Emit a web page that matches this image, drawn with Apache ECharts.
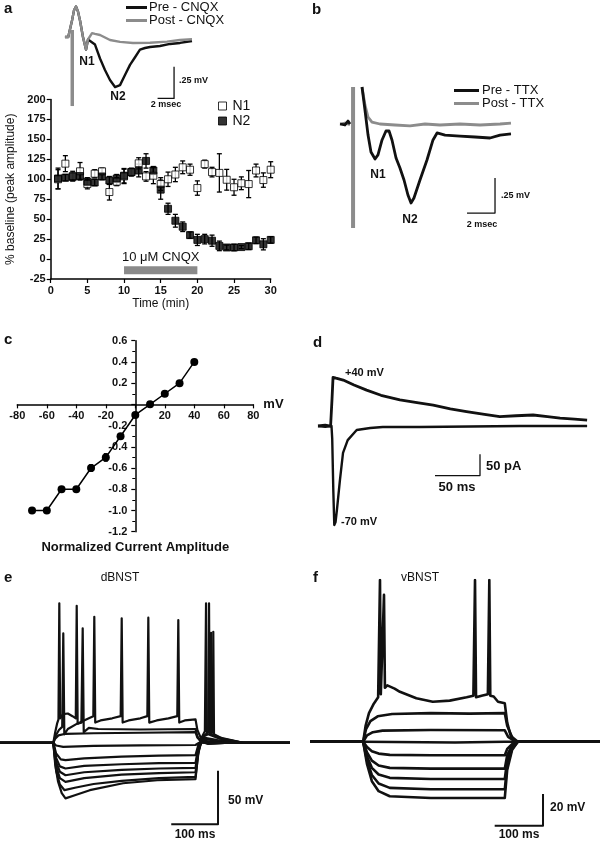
<!DOCTYPE html>
<html>
<head>
<meta charset="utf-8">
<script src="https://cdn.jsdelivr.net/npm/echarts@6/dist/echarts.min.js"></script>
<style>
html, body { margin: 0; padding: 0; background: #fff; }
#chart { width: 600px; height: 844px; }
</style>
</head>
<body>
<div id="chart"></div>
<script>
// ---------- a: field potentials pre / post CNQX (ms, mV) ----------
const aPreCnqx = [[0.6,0],[1.0,0],[1.2,0.01],[1.46,0.13],[1.7,0.21],[1.94,0.24],[2.19,0.2],[2.43,0.13],[2.79,0],[3.16,-0.1],[3.4,-0.02],[3.64,-0.01],[4.25,-0.06],[4.86,-0.17],[5.46,-0.26],[6.07,-0.34],[6.68,-0.395],[6.92,-0.405],[7.29,-0.38],[7.89,-0.3],[8.5,-0.22],[9.11,-0.16],[9.71,-0.1],[10.32,-0.087],[10.93,-0.079],[12.14,-0.071],[13.36,-0.055],[14.57,-0.047],[16.03,-0.032]];
const aPostCnqx = [[0.6,0],[1.0,0],[1.2,0.01],[1.46,0.13],[1.7,0.21],[1.94,0.24],[2.19,0.2],[2.43,0.13],[2.79,0],[3.16,-0.1],[3.4,-0.02],[3.89,0.03],[4.25,0.024],[4.86,0.016],[6.07,-0.024],[7.29,-0.039],[8.86,-0.047],[10.93,-0.045],[12.99,-0.037],[14.57,-0.024],[16.03,-0.018]];
const aStim = [[1.49,0.055],[1.49,-0.545]];
const aScaleBar = [[13.85,-0.235],[13.85,-0.485],[11.85,-0.485]];

// ---------- a: time course, % baseline ----------
const minutes = [1,2,3,4,5,6,7,8,9,10,11,12,13,14,15,16,17,18,19,20,21,22,23,24,25,26,27,28,29,30];
const n1Mean = [100,119.6,104,110,94,107,110,84,97,103.6,109,120,103.6,104.5,94,100,106,115,112,89,119,109,108,99.4,90,95,94,111,99,112];
const n1Sem  = [12,10,6,11,6,5,4,10,5,9,5,7,6,10,8,9,9,8,7,9,5,6,24,13,10,8,17,8,9,10];
const n2Mean = [101,102,103,104,97,96,103.5,98.5,101,104.5,109,111,123,111,87,63,48,40.5,30,24,25,23,16.5,14.5,14.5,15,16,23.5,18.5,24];
const n2Sem  = [13,4,5,4,5,4,4,5,5,9,4,8,9,5,12,7,8,6,4,7,6,7,6,3,4,2,4,4,7,4];
const cnqxWindow = [10, 20];
const cnqxBarY = [-19, -9];

// ---------- b: field potentials pre / post TTX (ms, mV) ----------
const bPreTtx = [[0.36,0],[0.71,-0.007],[0.93,0.021],[1.07,0],[1.5,'-'],[1.93,0.264],[2.14,0.1],[2.36,-0.079],[2.57,-0.2],[2.86,-0.25],[3.07,-0.221],[3.36,-0.114],[3.64,-0.05],[3.86,-0.05],[4.07,-0.114],[4.36,-0.243],[4.64,-0.314],[4.93,-0.4],[5.21,-0.507],[5.43,-0.564],[5.64,-0.529],[6.07,-0.4],[6.57,-0.257],[7.0,-0.114],[7.29,-0.064],[7.86,-0.079],[8.93,-0.086],[10.0,-0.093],[11.07,-0.1],[11.79,-0.079],[12.57,-0.071]];
const bPostTtx = [[0.36,0],[0.71,0.007],[1.07,-0.005],[1.5,'-'],[1.93,0.264],[2.14,0.136],[2.36,0.05],[2.64,0.014],[3.21,0],[4.29,-0.007],[5.36,-0.014],[6.43,0],[7.5,-0.007],[8.93,0],[10.36,-0.007],[11.79,0],[12.57,0.007]];
const bStim = [[1.29,0.264],[1.29,-0.743]];
const bScaleBar = [[11.43,-0.386],[11.43,-0.636],[9.43,-0.636]];

// ---------- c: I-V relation ----------
const cVoltage = [-70,-60,-50,-40,-30,-20,-10,0,10,20,30,40];
const cCurrent = [-1.0,-1.0,-0.8,-0.8,-0.6,-0.5,-0.3,-0.1,0.0,0.1,0.2,0.4];
const cSem     = [0.01,0.01,0.01,0.01,0.03,0.035,0.01,0.01,0.01,0.01,0.01,0.01];

// ---------- d: EPSCs at +40 and -70 mV (ms, pA) ----------
const dPlus40 = [[0,0],[8,2],[14,0],[15.5,60],[16.7,114],[20,112],[28,107.7],[40,96],[54,84],[70,72],[91,61],[110,55],[128,49],[147,40],[165,33.5],[185,27],[202,22],[220,24],[239,25.8],[255,22],[269,18.7],[285,16],[299,14]];
const dMinus70 = [[0,0],[8,-2],[15,0],[15.8,-30],[17,-150],[18.1,-232],[19.5,-225],[21,-197],[24.4,-126],[27.8,-63],[33,-33],[43,-9.4],[58,-4.7],[72,-2.3],[113,-2.3],[169,-1.2],[224,0],[299,0]];
const dScaleBar = [[180,-66],[180,-116],[130,-116]];

// ---------- e: dBNST current-clamp sweeps (ms, mV) ----------
const eH1 = [[0,-60],[114,-60],[120,-62.5],[135,-63.7],[200,-62.8],[300,-62.3],[418,-62],[425,-60],[440,-59.5],[620,-60]];
const eH2 = [[0,-60],[114,-60],[120,-70],[130,-75.5],[140,-76.2],[180,-74.5],[260,-72.8],[340,-72],[418,-71.5],[424,-62],[435,-58],[460,-59],[500,-60],[620,-60]];
const eH3 = [[0,-60],[114,-60],[120,-74],[128,-82],[140,-84],[180,-81.5],[260,-80],[340,-79],[418,-78.7],[424,-64],[435,-56],[460,-58],[510,-60],[620,-60]];
const eH4 = [[0,-60],[114,-60],[120,-78],[128,-87],[140,-90.3],[180,-87.5],[260,-85.2],[340,-84],[418,-83.4],[424,-66],[435,-55],[465,-57.5],[515,-60],[620,-60]];
const eH5 = [[0,-60],[114,-60],[120,-82],[128,-93],[140,-96.5],[180,-93],[260,-89.8],[340,-88.3],[418,-87.5],[424,-68],[435,-54],[445,-52],[470,-56],[520,-60],[620,-60]];
const eH6 = [[0,-60],[114,-60],[120,-86],[128,-99],[138,-104.3],[160,-102],[200,-98.5],[260,-95.5],[340,-93],[418,-91.9],[424,-70],[432,-55],[445,-50],[446.9,70.6],[448.4,-51],[455,-50],[456,44],[457.5,-52],[475,-56],[520,-60],[620,-60]];
const eH7 = [[0,-60],[114,-60],[118,-80],[124,-96],[132,-107],[140,-112],[160,-109],[192,-104.3],[263,-97.8],[336,-95],[418,-94],[423,-72],[430,-56],[438,-49],[440.5,70.6],[442,-50],[450,-50],[451.2,43],[452.5,-52],[470,-55],[520,-60],[620,-60]];
const eD1 = [[0,-60],[114,-60],[118,-56],[125,-53],[140,-51.5],[200,-51],[300,-50.5],[418,-50],[422,-55],[430,-59],[445,-60.5],[480,-60],[620,-60]];
const eD2 = [[0,-60],[114,-60],[118,-54],[126,-48],[133,-45],[135.3,42.5],[137.5,-52],[145,-47],[165,-42],[174,-41],[176.8,47.2],[179,-50],[190,-46],[210,-47],[300,-47.5],[418,-47],[422,-54],[430,-59],[445,-61],[480,-60],[620,-60]];
const eD3 = [[0,-60],[114,-60],[118,-50],[122,-42],[125,-38],[126.8,70.6],[128.6,-37],[135,-33],[145,-32.5],[155,-35],[162,-37],[164,68.4],[166,-42],[175,-40],[190,-37],[199.5,-35],[201.6,58.1],[203.6,-41],[215,-39],[240,-37],[258,-35],[260.2,56.6],[262.2,-41],[275,-39],[300,-37],[315,-35],[317.1,57.2],[319.1,-41],[335,-39],[360,-37],[379,-35],[381.2,55],[383.2,-41],[395,-39],[418,-38],[422,-48],[430,-56],[445,-60.5],[480,-60],[620,-60]];
const eScaleBar = [[466.1,-86.2],[466.1,-136.2],[366.1,-136.2]];

// ---------- f: vBNST current-clamp sweeps (ms, mV) ----------
const fH1 = [[0,-60],[110,-60],[118,-63.4],[128,-66],[142,-67.5],[165,-68.3],[250,-68.5],[403,-68.5],[408,-64.5],[418,-61.5],[430,-60],[600,-60]];
const fH2 = [[0,-60],[110,-60],[118,-66.8],[128,-71.9],[142,-75],[165,-76.5],[250,-77],[403,-77],[408,-68.5],[418,-62.5],[430,-60],[600,-60]];
const fH3 = [[0,-60],[110,-60],[118,-69.4],[128,-76.5],[142,-80.7],[165,-82.8],[250,-83.5],[403,-83.5],[408,-71.8],[418,-63.5],[430,-60],[600,-60]];
const fH4 = [[0,-60],[110,-60],[118,-72],[128,-81],[142,-86.4],[165,-89.1],[250,-90],[403,-90],[408,-75],[418,-64.5],[430,-60],[600,-60]];
const fH5 = [[0,-60],[110,-60],[118,-74.2],[128,-84.9],[142,-91.2],[165,-94.4],[250,-95.5],[403,-95.5],[408,-77.8],[418,-65.3],[430,-60],[600,-60]];
const fS0 = [[0,-60],[110,-60],[300,-60.5],[403,-60],[600,-60]];
const fD1 = [[0,-60],[110,-60],[118,-56],[130,-54],[150,-53],[250,-52.6],[403,-52.8],[410,-57],[425,-60],[600,-60]];
const fD2 = [[0,-60],[110,-60],[116,-52],[125,-47],[140,-44],[170,-42.5],[250,-42],[330,-42.3],[403,-42],[408,-50],[418,-57],[430,-60],[600,-60]];
const fD3 = [[0,-60],[110,-60],[115,-50],[122,-42],[132,-36],[141,-32],[143.5,-31],[144.8,42],[146.5,-30],[150.5,-29],[153.1,32.6],[155,-26],[160,-24.5],[175,-26.5],[186,-28.5],[220,-32.6],[254,-34.8],[289,-34.1],[324,-32],[338,-31],[341.4,42],[343.5,-32],[355,-31],[368,-30],[371,42],[373,-31],[380,-31.5],[389,-34.8],[403,-35.8],[408,-48],[415,-56],[425,-60],[600,-60]];
const fScaleBar = [[482.1,-93],[482.1,-113],[382.1,-113]];

const FONT = '"Liberation Sans", Arial, Helvetica, sans-serif';
const BLACK = '#111';
const GREY = '#8c8c8c';

const chart = echarts.init(document.getElementById('chart'));

function trace(name, data, gi, color, width, z) {
  return {
    name: name, type: 'line', xAxisIndex: gi, yAxisIndex: gi, data: data,
    symbol: 'none', showSymbol: false, silent: true, z: z || 2,
    lineStyle: { color: color, width: width, join: 'round' },
    itemStyle: { color: color }
  };
}

function errorBars(data, gi, cap) {
  return {
    type: 'custom', xAxisIndex: gi, yAxisIndex: gi, data: data, silent: true, z: 3,
    renderItem: (params, api) => {
      const x = api.value(0), y = api.value(1), e = api.value(2);
      const top = api.coord([x, y + e]);
      const bot = api.coord([x, y - e]);
      const st = { stroke: '#000', lineWidth: 1.3 };
      return {
        type: 'group',
        children: [
          { type: 'line', shape: { x1: top[0], y1: top[1], x2: bot[0], y2: bot[1] }, style: st },
          { type: 'line', shape: { x1: top[0] - cap, y1: top[1], x2: top[0] + cap, y2: top[1] }, style: st },
          { type: 'line', shape: { x1: bot[0] - cap, y1: bot[1], x2: bot[0] + cap, y2: bot[1] }, style: st }
        ]
      };
    }
  };
}

function hiddenAxis(gi, min, max) {
  return { gridIndex: gi, type: 'value', min: min, max: max, show: false };
}

function txt(x, y, text, size, bold, align) {
  return {
    type: 'text', x: x, y: y, silent: true,
    style: {
      text: text, fill: BLACK, textAlign: align || 'left', textVerticalAlign: 'middle',
      font: (bold ? 'bold ' : '') + size + 'px ' + FONT
    }
  };
}

const axisLbl = { fontSize: 11, fontWeight: 'bold', color: BLACK, fontFamily: FONT };

const n1Data = minutes.map((m, i) => [m, n1Mean[i]]);
const n2Data = minutes.map((m, i) => [m, n2Mean[i]]);
const n1Err = minutes.map((m, i) => [m, n1Mean[i], n1Sem[i]]);
const n2Err = minutes.map((m, i) => [m, n2Mean[i], n2Sem[i]]);
const cData = cVoltage.map((v, i) => [v, cCurrent[i]]);
const cErr = cVoltage.map((v, i) => [v, cCurrent[i], cSem[i]]);

// panel c: axes cross at the origin, shift them in from the grid edges
const cGrid = { left: 17.3, top: 340.7, width: 236, height: 191 };
const cXRange = [-80, 80];
const cYRange = [-1.2, 0.6];
const cYAxisShift = -cGrid.width * (0 - cXRange[0]) / (cXRange[1] - cXRange[0]);
const cXAxisShift = -cGrid.height * (0 - cYRange[0]) / (cYRange[1] - cYRange[0]);

const option = {
  animation: false,
  backgroundColor: '#fff',
  textStyle: { fontFamily: FONT },
  grid: [
    { left: 60, top: 1.5, width: 140, height: 107.7 },      // 0 a traces
    { left: 50.7, top: 99.5, width: 220, height: 179.5 },   // 1 a time course
    { left: 335, top: 84.8, width: 182, height: 145.6 },    // 2 b traces
    cGrid,                                                  // 3 c I-V
    { left: 318, top: 370.5, width: 270, height: 158 },     // 4 d EPSCs
    { left: 0, top: 588, width: 290, height: 251 },         // 5 e dBNST
    { left: 310, top: 580, width: 290, height: 260 }        // 6 f vBNST
  ].map(g => Object.assign({ outerBoundsMode: 'none' }, g)),
  legend: [
    {
      left: 121, top: -4, orient: 'vertical', icon: 'rect', itemWidth: 21, itemHeight: 3, itemGap: 0,
      data: ['Pre - CNQX', 'Post - CNQX'],
      textStyle: { fontSize: 13, color: BLACK, fontFamily: FONT, padding: [0, 0, 0, -3] }
    },
    {
      left: 213, top: 94, orient: 'vertical', icon: 'rect', itemWidth: 8, itemHeight: 8, itemGap: 1,
      data: ['N1', 'N2'],
      itemStyle: { borderColor: '#000', borderWidth: 1 },
      textStyle: { fontSize: 14, color: BLACK, fontFamily: FONT, padding: [0, 0, 0, 1] }
    },
    {
      left: 449, top: 79, orient: 'vertical', icon: 'rect', itemWidth: 25, itemHeight: 3, itemGap: 0,
      data: ['Pre - TTX', 'Post - TTX'],
      textStyle: { fontSize: 13, color: BLACK, fontFamily: FONT, padding: [0, 0, 0, -2] }
    }
  ],
  xAxis: [
    hiddenAxis(0, 0, 17),
    {
      gridIndex: 1, type: 'value', min: 0, max: 30, interval: 5,
      name: 'Time (min)', nameLocation: 'middle', nameGap: 19,
      nameTextStyle: { fontSize: 12, color: BLACK, fontFamily: FONT },
      axisLine: { onZero: false, lineStyle: { color: '#000', width: 1.5 } },
      axisTick: { length: 4, lineStyle: { color: '#000', width: 1.2 } },
      axisLabel: Object.assign({ margin: 6 }, axisLbl),
      splitLine: { show: false }
    },
    hiddenAxis(2, 0, 13),
    {
      gridIndex: 3, type: 'value', min: cXRange[0], max: cXRange[1], interval: 20,
      offset: cXAxisShift,
      name: 'mV', nameLocation: 'end', nameGap: 9,
      nameTextStyle: { fontSize: 13, fontWeight: 'bold', color: BLACK, fontFamily: FONT },
      axisLine: { onZero: false, lineStyle: { color: '#000', width: 1.5 } },
      axisTick: { length: 4, lineStyle: { color: '#000', width: 1.2 } },
      axisLabel: Object.assign({ margin: 6, formatter: v => (v === 0 ? '' : String(v)) }, axisLbl),
      splitLine: { show: false }
    },
    hiddenAxis(4, 0, 300),
    hiddenAxis(5, 0, 620),
    hiddenAxis(6, 0, 600)
  ],
  yAxis: [
    hiddenAxis(0, -0.57, 0.28),
    {
      gridIndex: 1, type: 'value', min: -25, max: 200, interval: 25,
      name: '% baseline (peak amplitude)', nameLocation: 'middle', nameGap: 34,
      nameTextStyle: { fontSize: 12, color: BLACK, fontFamily: FONT },
      axisLine: { show: true, onZero: false, lineStyle: { color: '#000', width: 1.5 } },
      axisTick: { show: true, length: 4, lineStyle: { color: '#000', width: 1.2 } },
      axisLabel: Object.assign({ margin: 5 }, axisLbl),
      splitLine: { show: false }
    },
    hiddenAxis(2, -0.76, 0.28),
    {
      gridIndex: 3, type: 'value', min: cYRange[0], max: cYRange[1], interval: 0.2,
      offset: cYAxisShift,
      name: 'Normalized Current Amplitude', nameLocation: 'start', nameGap: 9,
      nameTextStyle: { fontSize: 13, fontWeight: 'bold', color: BLACK, fontFamily: FONT, align: 'center', verticalAlign: 'top' },
      axisLine: { show: true, onZero: false, lineStyle: { color: '#000', width: 1.5 } },
      axisTick: { show: true, length: 4, lineStyle: { color: '#000', width: 1.2 } },
      minorTick: { show: true, splitNumber: 2, length: 3, lineStyle: { color: '#000', width: 1 } },
      axisLabel: Object.assign({ margin: 8, formatter: v => (Math.abs(v) < 1e-9 ? '' : v.toFixed(1)) }, axisLbl),
      splitLine: { show: false }
    },
    hiddenAxis(4, -240, 130),
    hiddenAxis(5, -150, 85),
    hiddenAxis(6, -122, 42)
  ],
  series: [
    // a traces
    trace('Pre - CNQX', aPreCnqx, 0, BLACK, 2.4, 2),
    trace('Post - CNQX', aPostCnqx, 0, GREY, 2.4, 3),
    trace('aStim', aStim, 0, GREY, 3.5, 4),
    trace('aScale', aScaleBar, 0, BLACK, 1.3, 4),
    // a time course
    errorBars(n1Err, 1, 2.5),
    {
      name: 'N1', type: 'scatter', xAxisIndex: 1, yAxisIndex: 1, data: n1Data,
      symbol: 'rect', symbolSize: 7, z: 4, silent: true,
      itemStyle: { color: '#fff', borderColor: '#000', borderWidth: 1 }
    },
    errorBars(n2Err, 1, 2.5),
    {
      name: 'N2', type: 'scatter', xAxisIndex: 1, yAxisIndex: 1, data: n2Data,
      symbol: 'rect', symbolSize: 7, z: 5, silent: true,
      itemStyle: { color: '#000', borderColor: '#000', borderWidth: 1 },
      markArea: {
        silent: true,
        itemStyle: { color: '#8a8a8a' },
        label: {
          show: true, position: 'top', distance: 2, formatter: '10 \u03BCM CNQX',
          fontSize: 13, color: BLACK, fontFamily: FONT
        },
        data: [[{ xAxis: cnqxWindow[0], yAxis: cnqxBarY[0] }, { xAxis: cnqxWindow[1], yAxis: cnqxBarY[1] }]]
      }
    },
    // b traces
    trace('Post - TTX', bPostTtx, 2, GREY, 2.8, 2),
    trace('Pre - TTX', bPreTtx, 2, BLACK, 2.8, 3),
    trace('bStim', bStim, 2, GREY, 4, 4),
    trace('bScale', bScaleBar, 2, BLACK, 1.3, 4),
    // c I-V
    errorBars(cErr, 3, 2),
    {
      type: 'line', xAxisIndex: 3, yAxisIndex: 3, data: cData, silent: true, z: 4,
      symbol: 'circle', symbolSize: 8, showSymbol: true,
      lineStyle: { color: '#000', width: 1.5 }, itemStyle: { color: '#000' }
    },
    // d EPSCs
    trace('d+40', dPlus40, 4, BLACK, 2.8),
    trace('d-70', dMinus70, 4, BLACK, 2.4),
    trace('dScale', dScaleBar, 4, BLACK, 1.3),
    // e dBNST
    ...[eH1, eH2, eH3, eH4, eH5, eH6, eH7, eD1, eD2, eD3].map((s, i) => trace('e' + i, s, 5, BLACK, 2.2)),
    trace('eScale', eScaleBar, 5, BLACK, 2),
    // f vBNST
    ...[fH1, fH2, fH3, fH4, fH5, fS0, fD1, fD2, fD3].map((s, i) => trace('f' + i, s, 6, BLACK, 2.6)),
    trace('fScale', fScaleBar, 6, BLACK, 2)
  ],
  graphic: [
    txt(4, 9, 'a', 15, true),
    txt(312, 10, 'b', 15, true),
    txt(4, 340, 'c', 15, true),
    txt(313, 343, 'd', 15, true),
    txt(4, 578, 'e', 15, true),
    txt(313, 578, 'f', 15, true),
    txt(87, 62, 'N1', 12, true, 'center'),
    txt(118, 97, 'N2', 12, true, 'center'),
    txt(179, 81, '.25 mV', 9, true),
    txt(166, 105, '2 msec', 9, true, 'center'),
    txt(378, 175, 'N1', 12, true, 'center'),
    txt(410, 220, 'N2', 12, true, 'center'),
    txt(501, 196, '.25 mV', 9, true),
    txt(482, 225, '2 msec', 9, true, 'center'),
    txt(345, 373, '+40 mV', 11, true),
    txt(341, 522, '-70 mV', 11, true),
    txt(486, 466, '50 pA', 13, true),
    txt(457, 487, '50 ms', 13, true, 'center'),
    txt(120, 578, 'dBNST', 12, false, 'center'),
    txt(228, 801, '50 mV', 12, true),
    txt(195, 835, '100 ms', 12, true, 'center'),
    txt(420, 578, 'vBNST', 12, false, 'center'),
    txt(550, 808, '20 mV', 12, true),
    txt(519, 835, '100 ms', 12, true, 'center')
  ]
};

chart.setOption(option);
window.addEventListener('resize', () => chart.resize());
</script>
</body>
</html>
